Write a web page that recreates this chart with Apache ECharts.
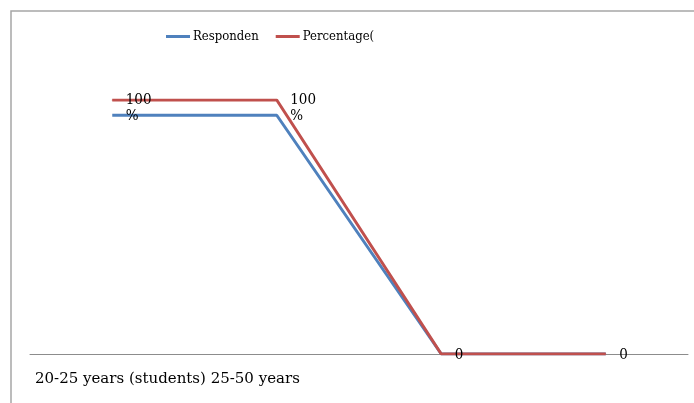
<!DOCTYPE html>
<html>
<head>
<meta charset="utf-8">
<script src="https://cdn.jsdelivr.net/npm/echarts@6/dist/echarts.min.js"></script>
<style>
  html, body { margin: 0; padding: 0; background: #fff; }
  #chart { width: 694px; height: 403px; }
</style>
</head>
<body>
<div id="chart"></div>
<script>
// Age groups on the category axis
const categories = ['20-25 years (students)', '25-50 years', '50-60 years', '60+ years'];
// Series names as shown in the legend
const seriesNames = ['Responden', 'Percentage('];
// Number of respondents per age group
const respondents = [94, 94, 0, 0];
// Share of respondents per age group (%)
const percentage = [100, 100, 0, 0];

const FONT = '"DejaVu Serif", serif';
const FONT_COND = '"DejaVu Serif Condensed", "DejaVu Serif", serif';

const chart = echarts.init(document.getElementById('chart'));

const pctData = percentage.map(v => ({
  value: v,
  label: v > 0 ? { offset: [0, 8] } : { offset: [0, 1] }
}));

chart.setOption({
  animation: false,
  backgroundColor: '#ffffff',
  graphic: [
    {
      type: 'rect',
      shape: { x: 11, y: 11, width: 700, height: 420 },
      style: { fill: 'none', stroke: '#a6a6a6', lineWidth: 1.5 },
      silent: true
    },
    {
      type: 'text',
      left: 35,
      top: 372,
      style: {
        text: categories.slice(0, 2).join(' '),
        font: '15px ' + FONT,
        fill: '#000'
      }
    }
  ],
  legend: {
    left: 161,
    top: 25,
    itemWidth: 24,
    itemHeight: 3,
    itemGap: 17,
    icon: 'rect',
    textStyle: { fontFamily: FONT_COND, fontSize: 13, color: '#000', padding: [0, 0, 0, -2] },
    data: seriesNames
  },
  grid: { left: 30, right: 6, top: 100, bottom: 49 },
  xAxis: {
    type: 'category',
    data: categories,
    boundaryGap: true,
    axisLine: { lineStyle: { color: '#8c8c8c', width: 1 } },
    axisTick: { show: false },
    axisLabel: { show: false }
  },
  yAxis: {
    type: 'value',
    min: 0,
    max: 100,
    show: false,
    splitLine: { show: false }
  },
  series: [
    {
      name: seriesNames[0],
      type: 'line',
      data: respondents,
      symbol: 'none',
      lineStyle: { color: '#4f81bd', width: 3 },
      itemStyle: { color: '#4f81bd' }
    },
    {
      name: seriesNames[1],
      type: 'line',
      data: pctData,
      symbol: 'circle',
      symbolSize: 1,
      showSymbol: true,
      lineStyle: { color: '#c0504d', width: 3 },
      itemStyle: { color: '#c0504d' },
      label: {
        show: true,
        position: 'right',
        distance: 13,
        fontFamily: FONT_COND,
        fontSize: 15,
        lineHeight: 16,
        color: '#000',
        formatter: p => (p.value > 0 ? p.value + '\n%' : String(p.value))
      }
    }
  ]
});
</script>
</body>
</html>
